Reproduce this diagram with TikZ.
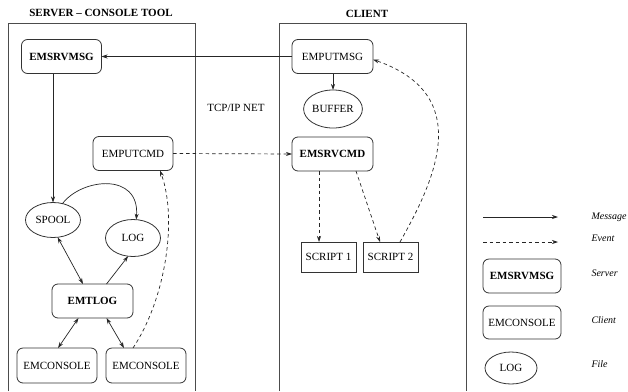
\documentclass[tikz,border=0pt]{standalone}
\usepackage{fontspec}
\setmainfont{Liberation Serif}
\usetikzlibrary{arrows.meta,shapes.geometric}

\tikzset{
  base/.style={draw=black!80, line width=0.8pt, inner sep=0pt, outer sep=0pt,
               font=\fontsize{11}{13}\selectfont},
  srvbox/.style={base, rounded corners=6pt, minimum width=80pt, minimum height=34pt,
                 font=\fontsize{11}{13}\selectfont\bfseries},
  clibox/.style={base, rounded corners=6pt, minimum width=80pt, minimum height=34pt},
  filebox/.style={base, ellipse, minimum width=55pt, minimum height=35pt},
  scriptbox/.style={base, rectangle, minimum width=55pt, minimum height=30pt},
  frame/.style={draw=black!70, line width=1pt},
  title/.style={font=\fontsize{11}{13}\selectfont\bfseries},
  tip/.tip={Stealth[length=6pt,width=4pt]},
  msg/.style={line width=0.7pt, draw=black!85, -tip},
  msgboth/.style={line width=0.7pt, draw=black!85, tip-tip},
  evt/.style={line width=0.7pt, draw=black!85, dash pattern=on 3.5pt off 3pt, -tip},
  legtext/.style={anchor=west, font=\fontsize{10}{12}\selectfont\itshape}
}

\begin{document}
\begin{tikzpicture}[x=1pt,y=-1pt]
\useasboundingbox (0,0) rectangle (628,391);

% column frames, open at the bottom
\draw[frame] (8,391) -- (8,23) -- (195,23) -- (195,391);
\draw[frame] (279,391) -- (279,23) -- (466,23) -- (466,391);
\node[title] (tSrv) at (101,13) {SERVER -- CONSOLE TOOL};
\node[title] (tCli) at (367,14) {CLIENT};
\node[font=\fontsize{11}{13}\selectfont] (net) at (236,108) {TCP/IP NET};

% server side
\node[srvbox] (emsrvmsg) at (61.5,56.5) {EMSRVMSG};
\node[clibox] (emputcmd) at (133,153.5) {EMPUTCMD};
\node[filebox] (spool) at (53,220) {SPOOL};
\node[filebox, minimum height=37pt] (log) at (133,238) {LOG};
\node[srvbox, minimum width=81pt] (emtlog) at (92.5,301) {EMTLOG};
\node[clibox, minimum height=35pt] (con1) at (57,365.5) {EMCONSOLE};
\node[clibox, minimum height=35pt] (con2) at (146,365.5) {EMCONSOLE};

% client side
\node[clibox, minimum width=81pt] (emputmsg) at (332.5,56.5) {EMPUTMSG};
\node[filebox, minimum width=54pt, minimum height=38pt] (buffer) at (333,109) {BUFFER};
\node[srvbox, minimum width=81pt] (emsrvcmd) at (332.5,154) {EMSRVCMD};
\node[scriptbox] (script1) at (328.5,257) {SCRIPT 1};
\node[scriptbox] (script2) at (390.5,257) {SCRIPT 2};

% messages
\draw[msg] (emputmsg.west) -- (emsrvmsg.east);
\draw[msg] (emsrvmsg.south -| spool.north) -- (spool.north);
\draw[msg] (spool.60) .. controls (82,178) and (140,172) .. (log.80);
\draw[msgboth] (spool.285) -- ([xshift=-9.5pt]emtlog.north);
\draw[msg] ([xshift=14pt]emtlog.north) -- (log.255);
\draw[msgboth] ([xshift=-14pt]emtlog.south) -- ([xshift=1pt]con1.north);
\draw[msgboth] ([xshift=14pt]emtlog.south) -- ([xshift=-22pt]con2.north);
\draw[msg] (emputmsg.south -| buffer.north) -- (buffer.north);

% events
\draw[evt] ([xshift=-13pt]con2.north) .. controls (165,300) and (178,220) .. ([xshift=27pt]emputcmd.south);
\draw[evt] (emputcmd.east) -- (emsrvcmd.west);
\draw[evt] ([xshift=-13.5pt]emsrvcmd.south) -- ([xshift=-13.5pt]emsrvcmd.south |- script1.north);
\draw[evt] ([xshift=23.5pt]emsrvcmd.south) -- ([xshift=-10.5pt]script2.north);
\draw[evt] ([xshift=9.5pt]script2.north) .. controls (435,180) and (475,95) .. ([yshift=-3pt]emputmsg.east);

% legend
\coordinate (lmA) at (483,217);
\coordinate (lmB) at (558,217);
\coordinate (leA) at (483,242);
\coordinate (leB) at (558,242);
\draw[msg] (lmA) -- (lmB);
\draw[evt] (leA) -- (leB);
\node[srvbox, minimum width=78pt] (lgSrv) at (522,276) {EMSRVMSG};
\node[clibox, minimum width=78pt, minimum height=33pt] (lgCli) at (522,322.5) {EMCONSOLE};
\node[filebox, minimum width=52pt, minimum height=32pt] (lgFile) at (511,368) {LOG};
\node[legtext] (lmT) at (588,217) {Message};
\node[legtext] (leT) at (588,238) {Event};
\node[legtext] (lsT) at (588,273) {Server};
\node[legtext] (lcT) at (588,320) {Client};
\node[legtext] (lfT) at (588,364) {File};
\end{tikzpicture}
\end{document}
